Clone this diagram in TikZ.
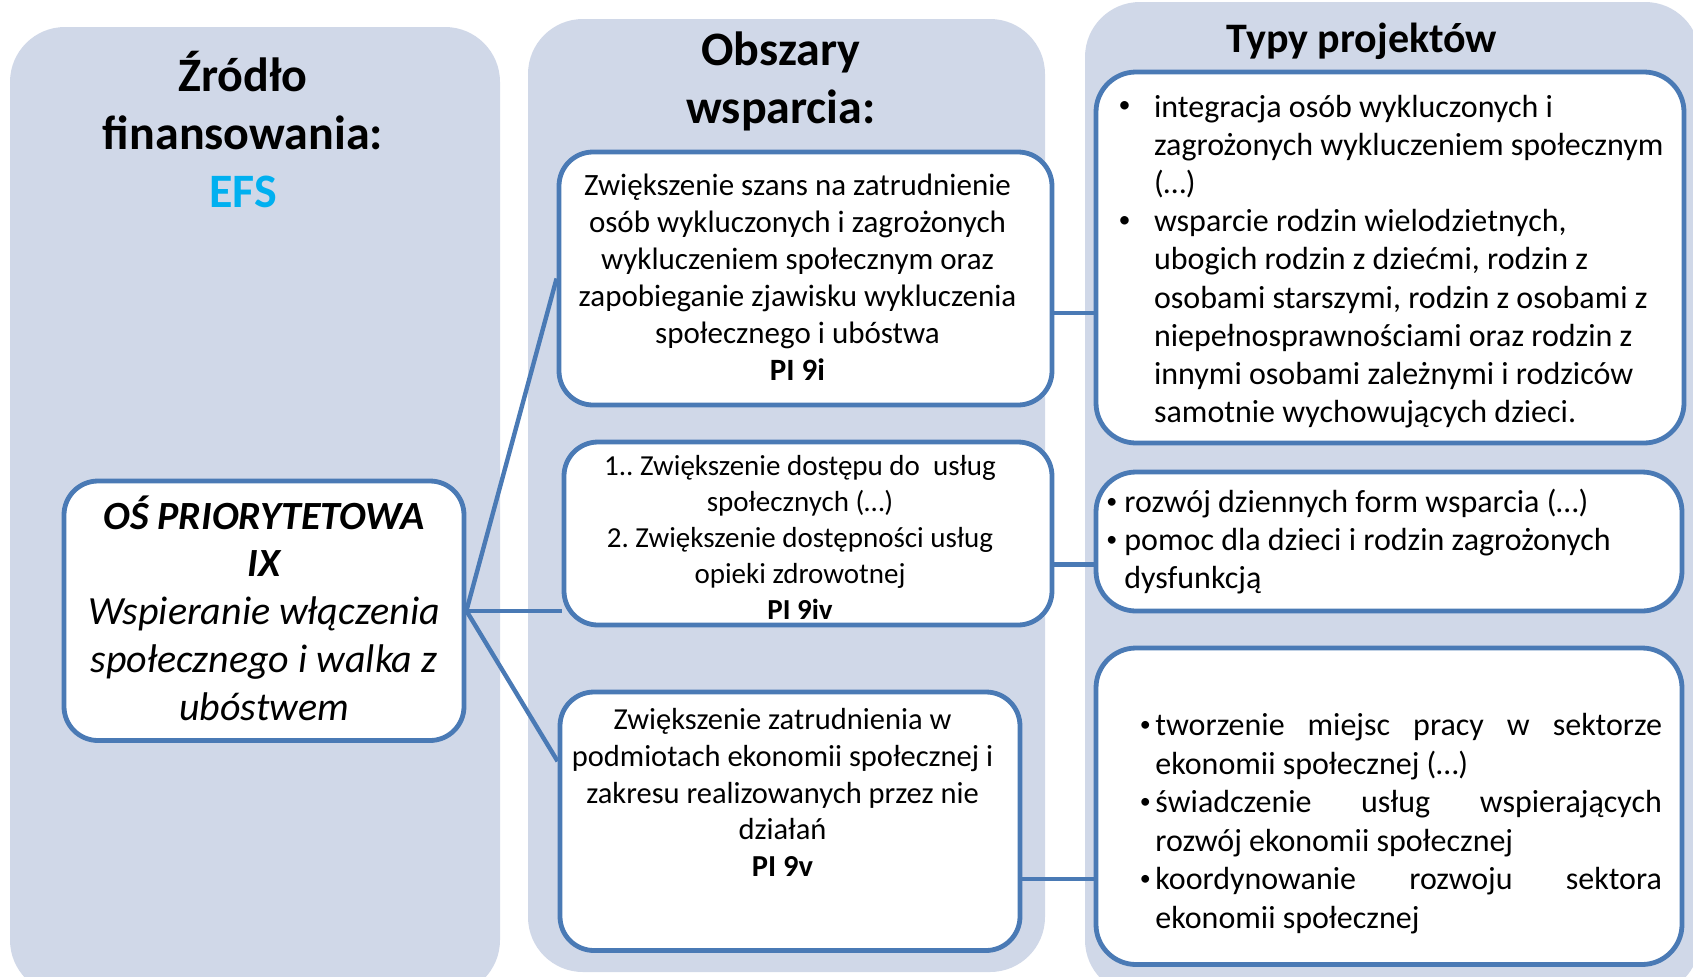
\documentclass[tikz,border=0pt]{standalone}
\usepackage{fontspec}
\setmainfont{Carlito}
\setlength\parindent{0pt}
\hbadness=10000
\frenchspacing
\definecolor{colbg}{HTML}{D0D8E8}
\definecolor{bord}{HTML}{4A7AB5}
\definecolor{efs}{HTML}{00B0F0}
\tikzset{
  colbox/.style={fill=colbg, draw=none, rounded corners=27.5pt},
  box/.style={draw=bord, fill=white, line width=2.4pt, rounded corners=17pt, inner sep=0pt},
  rbox/.style={box, rounded corners=20pt},
  conn/.style={draw=bord, line width=2.2pt},
  txt/.style={inner sep=0pt, anchor=base},
  ltxt/.style={inner sep=0pt, anchor=base west},
}
% #1 distance from bullet start to text, #2 bullet size, #3 raise
\newcommand\bul[3]{\leavevmode\llap{\makebox[#1][l]{\raisebox{#3}{\fontsize{#2}{#2}\selectfont •}}}}
\begin{document}
\begin{tikzpicture}[x=0.5pt,y=-0.5pt]
\useasboundingbox (0,0) rectangle (1693,976);
\clip (0,0) rectangle (1693,976);
\fill[white] (0,0) rectangle (1693,976);
% columns
\path[colbox] (10,27) rectangle (500,995);
\path[colbox] (528,19) rectangle (1045,972);
\path[colbox] (1085,2) rectangle (1700,995);
% titles
\node[txt] (t1) at (243,91) {\parbox[t]{300pt}{\centering\fontsize{24pt}{29pt}\selectfont\bfseries Źródło\\finansowania:\\\textcolor{efs}{EFS}}};
\node[txt] (t2) at (781,65) {\parbox[t]{300pt}{\centering\fontsize{24pt}{29pt}\selectfont\bfseries Obszary\\wsparcia:}};
\node[txt] (t3) at (1362,52) {\parbox[t]{300pt}{\centering\fontsize{21pt}{25pt}\selectfont\bfseries Typy projektów}};
% boxes
\node[box, minimum width=200pt, minimum height=129.75pt] (M) at (264,610.75) {};
\node[box, minimum width=246.5pt, minimum height=126.5pt] (A) at (805.5,278.5) {};
\node[box, minimum width=244pt, minimum height=91.5pt] (B) at (808,533.5) {};
\node[box, minimum width=230pt, minimum height=129.25pt] (C) at (790,821.25) {};
\node[rbox, minimum width=294pt, minimum height=185.5pt] (R1) at (1390,257.5) {};
\node[rbox, minimum width=293pt, minimum height=69.5pt] (R2) at (1389,541.5) {};
\node[rbox, minimum width=293pt, minimum height=158.25pt] (R3) at (1389,806.25) {};
% connectors
\draw[conn] (M.east) -- (A.west);
\draw[conn] (M.east) -- (M.east -| B.west);
\draw[conn] (M.east) -- ([yshift=30pt]C.west);
\draw[conn] ([yshift=-17.25pt]A.east) -- ([yshift=-17.25pt]A.east -| R1.west);
\draw[conn] ([yshift=-15.5pt]B.east) -- ([yshift=-15.5pt]B.east -| R2.west);
\draw[conn] ([yshift=-28.9pt]C.east) -- ([yshift=-28.9pt]C.east -| R3.west);
% texts
\node[txt] (mt) at (264,529) {\parbox[t]{240pt}{\centering\fontsize{20pt}{23.9pt}\selectfont {\bfseries\itshape OŚ PRIORYTETOWA\\IX}\\\itshape Wspieranie włączenia\\społecznego i walka z\\ubóstwem}};
\node[txt] (at) at (797.5,195) {\parbox[t]{300pt}{\centering\fontsize{15.5pt}{18.5pt}\selectfont Zwiększenie szans na zatrudnienie\\osób wykluczonych i zagrożonych\\wykluczeniem społecznym oraz\\zapobieganie zjawisku wykluczenia\\społecznego i ubóstwa\\\textbf{PI 9i}}};
\node[txt] (bt) at (800,475) {\parbox[t]{300pt}{\centering\fontsize{14.5pt}{18pt}\selectfont 1.. Zwiększenie dostępu do\ \ usług\\społecznych (…)\\2. Zwiększenie dostępności usług\\opieki zdrowotnej\\\textbf{PI 9iv}}};
\node[txt] (ct) at (782.5,729.5) {\parbox[t]{300pt}{\centering\fontsize{15.25pt}{18.4pt}\selectfont Zwiększenie zatrudnienia w\\podmiotach ekonomii społecznej i\\zakresu realizowanych przez nie\\działań\\\textbf{PI 9v}}};
\node[ltxt] (r1t) at (1153.7,117) {\parbox[t]{280pt}{\raggedright\fontsize{16pt}{19.1pt}\selectfont \bul{17.8pt}{12pt}{2.1pt}integracja osób wykluczonych i\\zagrożonych wykluczeniem społecznym\\(…)\\\bul{17.8pt}{12pt}{2.1pt}wsparcie rodzin wielodzietnych,\\ubogich rodzin z dziećmi, rodzin z\\osobami starszymi, rodzin z osobami z\\niepełnosprawnościami oraz rodzin z\\innymi osobami zależnymi i rodziców\\samotnie wychowujących dzieci.}};
\node[ltxt] (r2t) at (1124,512) {\parbox[t]{280pt}{\raggedright\fontsize{16pt}{19pt}\selectfont \bul{9pt}{11pt}{1.9pt}rozwój dziennych form wsparcia (…)\\\bul{9pt}{11pt}{1.9pt}pomoc dla dzieci i rodzin zagrożonych\\dysfunkcją}};
\node[ltxt] (r3t) at (1155,735.5) {\parbox[t]{253.25pt}{\tolerance=10000\fontsize{16pt}{19.25pt}\selectfont \bul{7.8pt}{11pt}{1.9pt}tworzenie miejsc pracy w sektorze\linebreak ekonomii społecznej (…)\par\bul{7.8pt}{11pt}{1.9pt}świadczenie usług wspierających\linebreak rozwój ekonomii społecznej\par\bul{7.8pt}{11pt}{1.9pt}koordynowanie rozwoju sektora\linebreak ekonomii społecznej}};
\end{tikzpicture}
\end{document}
